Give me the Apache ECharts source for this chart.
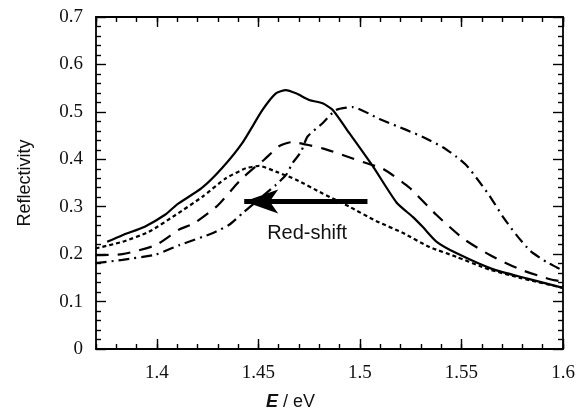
<!DOCTYPE html>
<html>
<head>
<meta charset="utf-8">
<script src="https://cdn.jsdelivr.net/npm/echarts@6/dist/echarts.min.js"></script>
<style>html,body{margin:0;padding:0;background:#fff}#c{width:580px;height:418px}</style>
</head>
<body>
<div id="c"></div>
<script>
// ---- data (E in eV, reflectivity) ----
var solidCurve = [[1.3755,0.226],[1.383,0.240],[1.394,0.258],[1.404,0.283],[1.410,0.305],[1.422,0.339],[1.432,0.381],[1.442,0.434],[1.452,0.504],[1.4586,0.539],[1.4635,0.546],[1.4685,0.539],[1.475,0.525],[1.4816,0.518],[1.4866,0.504],[1.4948,0.455],[1.5064,0.385],[1.518,0.309],[1.526,0.2785],[1.531,0.257],[1.5378,0.226],[1.5477,0.2017],[1.565,0.169],[1.582,0.149],[1.6,0.129]];
var dottedCurve = [[1.3698,0.212],[1.383,0.226],[1.396,0.247],[1.409,0.282],[1.4224,0.321],[1.434,0.360],[1.4438,0.381],[1.4504,0.386],[1.4586,0.374],[1.4685,0.357],[1.4816,0.328],[1.4948,0.300],[1.5079,0.270],[1.521,0.245],[1.5343,0.215],[1.5477,0.194],[1.559,0.175],[1.5642,0.167],[1.5788,0.150],[1.6,0.129]];
var dashedCurve = [[1.3698,0.198],[1.383,0.200],[1.3994,0.219],[1.411,0.252],[1.4183,0.265],[1.4298,0.302],[1.4413,0.357],[1.4487,0.385],[1.4528,0.399],[1.4603,0.428],[1.466,0.436],[1.4701,0.434],[1.4816,0.423],[1.4915,0.409],[1.503,0.392],[1.5113,0.380],[1.5244,0.340],[1.5376,0.283],[1.5508,0.233],[1.564,0.198],[1.5788,0.168],[1.5936,0.147],[1.6,0.142]];
var dashDotCurve = [[1.3698,0.181],[1.383,0.188],[1.3994,0.199],[1.411,0.219],[1.4273,0.244],[1.4356,0.262],[1.4421,0.286],[1.4528,0.325],[1.4586,0.346],[1.4636,0.367],[1.4668,0.392],[1.471,0.416],[1.4742,0.448],[1.4816,0.476],[1.4882,0.504],[1.4964,0.510],[1.5096,0.485],[1.5228,0.462],[1.531,0.447],[1.541,0.425],[1.5476,0.405],[1.5525,0.387],[1.5575,0.360],[1.564,0.322],[1.5707,0.277],[1.5773,0.239],[1.5839,0.207],[1.592,0.183],[1.597,0.172],[1.6,0.165]];
var arrowFrom = [1.5037, 0.311];
var arrowTo = [1.443, 0.311];
var arrowText = 'Red-shift';
var arrowTextAt = [1.474, 0.2426];
var xRange = [1.37, 1.6];
var yRange = [0, 0.7];

var chart = echarts.init(document.getElementById('c'), null, {renderer: 'canvas'});
var black = '#000';
var serif = '"Liberation Serif", "DejaVu Serif", serif';
var sans = '"Liberation Sans", Arial, sans-serif';

function xAxisDef(pos, major, withLabel) {
  var a = {
    type: 'value', position: pos, min: xRange[0], max: xRange[1],
    axisLine: {show: major, onZero: false, lineStyle: {color: black, width: 1.8}},
    axisTick: {show: true, inside: true, length: major ? 10 : 5, lineStyle: {color: black, width: 1.4}},
    splitLine: {show: false},
    axisLabel: {show: false}
  };
  if (major) {
    a.splitNumber = 5;
  } else {
    a.interval = 0.01;
  }
  if (withLabel) {
    a.axisLabel = {show: true, showMinLabel: false, margin: 15, color: '#111', fontFamily: serif, fontSize: 19,
      formatter: function (v) { return String(Math.round(v * 100) / 100); }};
    a.name = '{i|E} / eV';
    a.nameLocation = 'middle';
    a.nameGap = 44;
    a.nameTextStyle = {color: '#111', fontFamily: sans, fontSize: 18, padding: [0, 78, 0, 0],
      rich: {i: {fontStyle: 'italic', fontWeight: 'bold', fontFamily: sans, fontSize: 18, color: '#111'}}};
  }
  return a;
}
function yAxisDef(pos, withLabel) {
  var a = {
    type: 'value', position: pos, min: yRange[0], max: yRange[1], interval: 0.1,
    axisLine: {show: true, onZero: false, lineStyle: {color: black, width: 1.8}},
    axisTick: {show: true, inside: true, length: 10, lineStyle: {color: black, width: 1.4}},
    minorTick: {show: true, splitNumber: 5, length: 5, lineStyle: {color: black, width: 1.4}},
    splitLine: {show: false}, minorSplitLine: {show: false},
    axisLabel: {show: false}
  };
  if (withLabel) {
    a.axisLabel = {show: true, margin: 13, color: '#111', fontFamily: serif, fontSize: 19,
      formatter: function (v) { return String(Math.round(v * 10) / 10); }};
    a.name = 'Reflectivity';
    a.nameLocation = 'middle';
    a.nameGap = 62;
    a.nameTextStyle = {color: '#111', fontFamily: sans, fontSize: 18};
  }
  return a;
}

function lineSeries(data, type) {
  return {
    type: 'line', data: data, xAxisIndex: 0, yAxisIndex: 0,
    showSymbol: false, symbol: 'none', smooth: 0.2, silent: true,
    lineStyle: {color: black, width: 2.2, type: type}
  };
}

var solid = lineSeries(solidCurve, 'solid');
solid.markLine = {
  silent: true, symbol: ['none', 'arrow'], symbolSize: [18, 34],
  label: {show: false},
  lineStyle: {color: black, width: 5, type: 'solid'},
  data: [[{coord: arrowFrom}, {coord: arrowTo}]]
};
solid.markPoint = {
  silent: true, symbol: 'circle', symbolSize: 1, itemStyle: {color: 'rgba(0,0,0,0)'},
  label: {show: true, position: 'inside', formatter: arrowText, color: '#111', fontFamily: sans, fontSize: 20},
  data: [{coord: arrowTextAt}]
};

chart.setOption({
  animation: false,
  backgroundColor: '#fff',
  grid: {left: 96, right: 17, top: 17, bottom: 69, containLabel: false},
  xAxis: [
    xAxisDef('bottom', true, true),
    xAxisDef('bottom', false, false),
    xAxisDef('top', true, false),
    xAxisDef('top', false, false)
  ],
  yAxis: [
    yAxisDef('left', true),
    yAxisDef('right', false)
  ],
  series: [
    solid,
    lineSeries(dottedCurve, [4, 3]),
    lineSeries(dashedCurve, [13, 9]),
    lineSeries(dashDotCurve, [11, 5, 2, 5])
  ]
});
</script>
</body>
</html>
